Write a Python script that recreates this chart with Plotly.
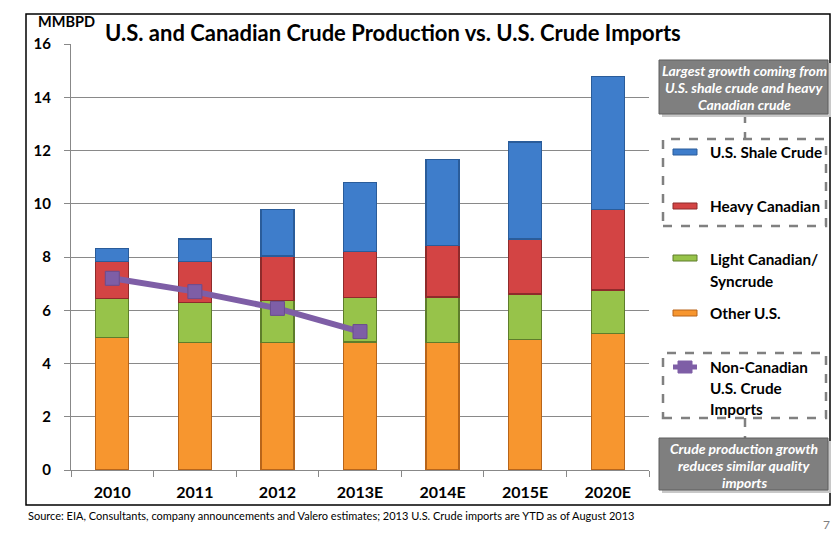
import plotly.graph_objects as go

# ---------------- data ----------------
categories = ["2010", "2011", "2012", "2013E", "2014E", "2015E", "2020E"]
other_us = [4.97, 4.79, 4.79, 4.81, 4.79, 4.89, 5.14]
light_canadian = [1.46, 1.51, 1.57, 1.67, 1.71, 1.72, 1.62]
heavy_canadian = [1.40, 1.53, 1.68, 1.73, 1.93, 2.07, 3.02]
us_shale = [0.48, 0.85, 1.73, 2.58, 3.22, 3.64, 5.01]
import_categories = ["2010", "2011", "2012", "2013E"]
non_canadian_imports = [7.2, 6.7, 6.07, 5.2]
y_ticks = [0, 2, 4, 6, 8, 10, 12, 14, 16]

# ---------------- styles ----------------
FONT = "Lato"
C_ORANGE, E_ORANGE = "#F7962F", "#B8651A"
C_GREEN, E_GREEN = "#97C34A", "#5E7D2B"
C_RED, E_RED = "#D34444", "#8E2B2B"
C_BLUE, E_BLUE = "#3E7DCB", "#2A5C9A"
C_PURPLE = "#7E5EA6"

W, H = 838, 537
PL, PR, PT, PB = 71, 649, 44, 470  # plot area in pixels


def px(x):
    return (x - PL) / (PR - PL)


def py(y):
    return (PB - y) / (PB - PT)


fig = go.Figure()
for name, vals, c, e in [
    ("Other U.S.", other_us, C_ORANGE, E_ORANGE),
    ("Light Canadian/ Syncrude", light_canadian, C_GREEN, E_GREEN),
    ("Heavy Canadian", heavy_canadian, C_RED, E_RED),
    ("U.S. Shale Crude", us_shale, C_BLUE, E_BLUE),
]:
    fig.add_trace(go.Bar(x=categories, y=vals, name=name,
                         marker=dict(color=c, line=dict(color=e, width=1.2)),
                         showlegend=False))

fig.add_trace(go.Scatter(x=import_categories, y=non_canadian_imports,
                         mode="lines+markers", name="Non-Canadian U.S. Crude Imports",
                         line=dict(color=C_PURPLE, width=6),
                         marker=dict(symbol="square", size=14, color=C_PURPLE,
                                     line=dict(color="#6A4D8F", width=1)),
                         showlegend=False))

shapes = []
annotations = []

# outer frame
shapes.append(dict(type="rect", xref="paper", yref="paper",
                   x0=px(26), x1=px(830), y0=py(505), y1=py(14),
                   line=dict(color="black", width=1.5), layer="below"))

# title + unit
annotations.append(dict(xref="paper", yref="paper", x=px(103), y=py(32),
                        xanchor="left", yanchor="middle", showarrow=False,
                        text="<b>U.S. and Canadian Crude Production vs. U.S. Crude Imports</b>",
                        font=dict(family=FONT, size=22, color="black")))
annotations.append(dict(xref="paper", yref="paper", x=px(36), y=py(22),
                        xanchor="left", yanchor="middle", showarrow=False,
                        text="<b>MMBPD</b>",
                        font=dict(family=FONT, size=14.5, color="black")))

# legend
def swatch(y, fill, edge):
    shapes.append(dict(type="rect", xref="paper", yref="paper",
                       x0=px(673), x1=px(697), y0=py(y + 3), y1=py(y - 3),
                       fillcolor=fill, line=dict(color=edge, width=1)))


def label(y, text):
    annotations.append(dict(xref="paper", yref="paper", x=px(708), y=py(y),
                            xanchor="left", yanchor="middle", showarrow=False,
                            text="<b>" + text + "</b>", align="left",
                            font=dict(family=FONT, size=15.3, color="black")))


swatch(152, C_BLUE, E_BLUE)
label(152, "U.S. Shale Crude")
swatch(206, C_RED, E_RED)
label(206, "Heavy Canadian")
swatch(258, C_GREEN, E_GREEN)
label(259, "Light Canadian/")
label(281, "Syncrude")
swatch(313, C_ORANGE, E_ORANGE)
label(313, "Other U.S.")
# purple legend symbol
shapes.append(dict(type="line", xref="paper", yref="paper",
                   x0=px(673), x1=px(697), y0=py(367), y1=py(367),
                   line=dict(color=C_PURPLE, width=5)))
shapes.append(dict(type="rect", xref="paper", yref="paper",
                   x0=px(678), x1=px(692), y0=py(373), y1=py(361),
                   fillcolor=C_PURPLE, line=dict(color=C_PURPLE, width=1)))
label(367, "Non-Canadian")
label(388, "U.S. Crude")
label(409, "Imports")

# dashed boxes
for (y0, y1) in [(139, 226), (353, 418)]:
    shapes.append(dict(type="rect", xref="paper", yref="paper",
                       x0=px(663), x1=px(826), y0=py(y1), y1=py(y0),
                       line=dict(color="#808080", width=2.5, dash="dash")))
# connectors
shapes.append(dict(type="line", xref="paper", yref="paper",
                   x0=px(745), x1=px(745), y0=py(114), y1=py(139),
                   line=dict(color="#808080", width=2.5, dash="dash")))
shapes.append(dict(type="line", xref="paper", yref="paper",
                   x0=px(745), x1=px(745), y0=py(418), y1=py(438),
                   line=dict(color="#808080", width=2.5, dash="dash")))

# callout boxes
for (y0, y1, lines) in [
    (60, 114, ["Largest growth coming from", "U.S. shale crude and heavy", "Canadian crude"]),
    (438, 490, ["Crude production growth", "reduces similar quality", "imports"]),
]:
    shapes.append(dict(type="rect", xref="paper", yref="paper",
                       x0=px(662), x1=px(831), y0=py(y1 + 3), y1=py(y0 + 3),
                       fillcolor="#C8C8C8", line=dict(width=0)))
    shapes.append(dict(type="rect", xref="paper", yref="paper",
                       x0=px(659), x1=px(828), y0=py(y1), y1=py(y0),
                       fillcolor="#7F7F7F", line=dict(color="#5E5E5E", width=1)))
    for i, t in enumerate(lines):
        annotations.append(dict(xref="paper", yref="paper", x=px(744),
                                y=py(y0 + 10 + i * 17), xanchor="center", yanchor="middle",
                                showarrow=False, text="<b><i>" + t + "</i></b>",
                                font=dict(family=FONT, size=14, color="white")))

# source + page number
annotations.append(dict(xref="paper", yref="paper", x=px(26), y=py(515),
                        xanchor="left", yanchor="middle", showarrow=False,
                        text="Source: EIA, Consultants, company announcements and Valero estimates; "
                             "2013 U.S. Crude imports are YTD as of August 2013",
                        font=dict(family=FONT, size=11, color="black")))
annotations.append(dict(xref="paper", yref="paper", x=px(832), y=py(524),
                        xanchor="right", yanchor="middle", showarrow=False,
                        text="7", font=dict(family=FONT, size=12, color="#7F7F7F")))

fig.update_layout(
    width=W, height=H,
    margin=dict(l=PL, r=W - PR, t=PT, b=H - PB, pad=0),
    paper_bgcolor="white", plot_bgcolor="white",
    barmode="stack", bargap=0.6,
    showlegend=False,
    shapes=shapes, annotations=annotations,
    font=dict(family=FONT, color="black"),
    xaxis=dict(type="category", showgrid=False, showline=True, linecolor="#888888",
               linewidth=1, ticks="outside", tickson="boundaries", ticklen=6,
               tickcolor="#888888", ticklabelstandoff=8,
               tickfont=dict(family=FONT, size=16, color="black", weight="bold"),
               fixedrange=True),
    yaxis=dict(range=[0, 16], tickvals=y_ticks, showgrid=True, gridcolor="#898989",
               gridwidth=1, showline=True, linecolor="#888888", linewidth=1,
               ticks="outside", ticklen=6, tickcolor="#888888", ticklabelstandoff=10,
               tickfont=dict(family=FONT, size=15, color="black", weight="bold"),
               zeroline=False, fixedrange=True),
)

fig.write_html("out.html", config={"displayModeBar": False},
               post_script="document.body.style.margin='0';document.body.style.padding='0';")
